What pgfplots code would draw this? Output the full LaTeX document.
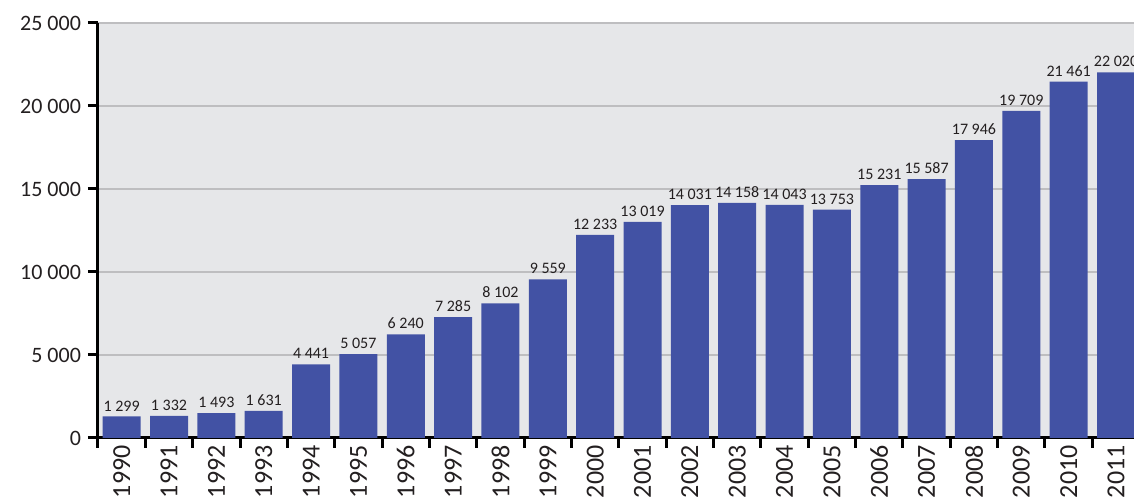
\documentclass[border=0pt]{standalone}
\usepackage{fontspec}
\setmainfont{Carlito}
\usepackage{pgfplots}
\pgfplotsset{compat=1.18}
\definecolor{barblue}{RGB}{66,82,164}
\definecolor{bggray}{RGB}{230,231,233}
\definecolor{gridgray}{RGB}{190,190,192}
\definecolor{txt}{RGB}{35,31,32}

\begin{document}
\begin{tikzpicture}
\begin{axis}[
  scale only axis, width=518pt, height=207.5pt,
  ybar, bar width=19pt,
  xmin=-0.5, xmax=21.38, ymin=0, ymax=25000,
  axis x line*=bottom, axis y line*=left,
  axis line style={black, line width=1.5pt, -},
  axis background/.style={fill=bggray},
  ymajorgrids, grid style={gridgray, line width=0.75pt},
  ytick={0,5000,...,25000},
  scaled y ticks=false,
  /pgf/number format/.cd, 1000 sep={\ }, assume math mode=true, /pgfplots/.cd,
  tick align=outside, major tick length=5pt,
  tick style={black, line width=1.5pt},
  xtick={-0.5,0.5,...,20.5}, xticklabel=\empty,
  extra x ticks={0,1,...,21},
  extra x tick labels={1990,1991,1992,1993,1994,1995,1996,1997,1998,1999,2000,2001,2002,2003,2004,2005,2006,2007,2008,2009,2010,2011},
  extra x tick style={major tick length=0pt, tick style={draw=none},
    xticklabel style={rotate=90, anchor=east, inner sep=3.5pt, font=\fontsize{13}{15}\selectfont, text=txt}},
  ticklabel style={font=\fontsize{11}{13}\selectfont, text=txt},
  nodes near coords,
  every node near coord/.append style={font=\fontsize{8}{10}\selectfont, text=txt, inner sep=2.5pt},
]
\addplot[fill=barblue, draw=none] coordinates {
(0,1299) (1,1332) (2,1493) (3,1631) (4,4441) (5,5057) (6,6240) (7,7285)
(8,8102) (9,9559) (10,12233) (11,13019) (12,14031) (13,14158) (14,14043)
(15,13753) (16,15231) (17,15587) (18,17946) (19,19709) (20,21461) (21,22020)};
\coordinate (ll) at (rel axis cs:0,0);
\coordinate (ur) at (rel axis cs:1,1);
\end{axis}
\pgfresetboundingbox
\path[use as bounding box] ([xshift=-49pt,yshift=-30.5pt]ll) rectangle ([yshift=11.5pt]ur);
\end{tikzpicture}
\end{document}
